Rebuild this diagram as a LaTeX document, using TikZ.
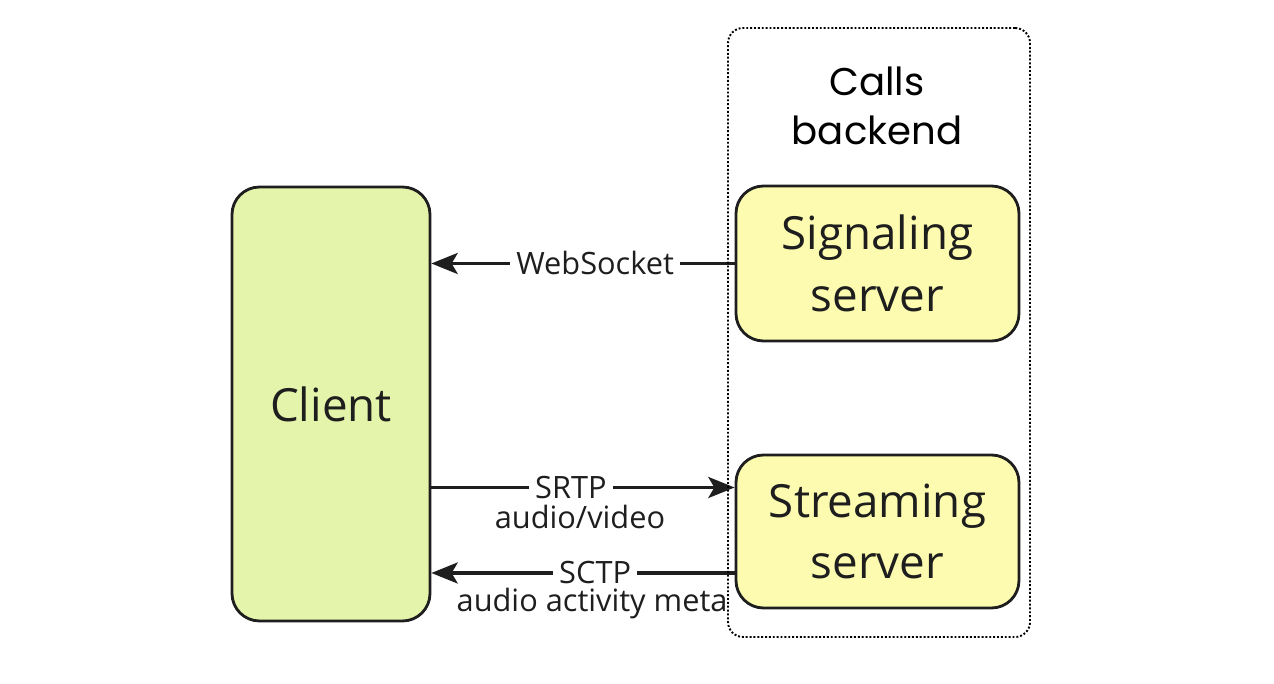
\documentclass[tikz,border=0pt]{standalone}
\usepackage{fontspec}
\usetikzlibrary{arrows.meta}
\newfontfamily\labelfont{Open Sans}
\newfontfamily\titlefont{Poppins}
\definecolor{clientfill}{HTML}{E4F4AA}
\definecolor{serverfill}{HTML}{FCFBB0}
\definecolor{ink}{HTML}{1E1E1E}

\begin{document}
\begin{tikzpicture}[box/.style={draw=ink, line width=1.6pt, rounded corners=0.55cm, align=center, text=ink, inner sep=0pt, font=\labelfont\fontsize{26}{35}\selectfont},
	group/.style={draw=black, line width=1.1pt, dash pattern=on 1.1pt off 1.1pt, rounded corners=0.3cm, inner sep=0pt},
	link/.style={draw=ink, line width=1.8pt, -{Stealth[length=15pt,width=12pt,inset=3.5pt]}},
	lbl/.style={fill=white, text=ink, inner xsep=3.5pt, inner ysep=1pt, anchor=base, yshift=-6pt, font=\labelfont\fontsize{17.5}{18}\selectfont},
	note/.style={text=ink, inner sep=0pt, anchor=base, font=\labelfont\fontsize{17.5}{18}\selectfont}]
	\useasboundingbox (0,0) rectangle (25.48,13.68);
	\node [box, fill=clientfill, minimum width=3.96cm, minimum height=8.68cm] (client) at (6.62,5.6){Client};
	\node [box, fill=serverfill, minimum width=5.66cm, minimum height=3.1cm] (sig) at (17.55,8.41){Signaling\\server};
	\node [box, fill=serverfill, minimum width=5.66cm, minimum height=3.06cm] (stream) at (17.55,3.05){Streaming\\server};
	\coordinate (srtp) at ([yshift=0.88cm]stream.west);
	\coordinate (sctp) at ([yshift=-0.83cm]stream.west);
% connections
\draw [link] (sig.west) -- (sig.west -| client.east) node [lbl, pos=0.46] (ws) {WebSocket};
\draw [link] (srtp -| client.east) -- (srtp) node [lbl, pos=0.46] (srtplbl) {SRTP} node [note, pos=0.49, yshift=-23.3pt] (srtpnote) {audio/video};
\draw [link] (sctp) -- (sctp -| client.east) node [lbl, pos=0.46] (sctplbl) {SCTP} node [note, pos=0.47, yshift=-22pt] (sctpnote) {audio activity meta};
% backend group
	\node [group, minimum width=6.04cm, minimum height=12.18cm] (backend) at (17.58,7.03){};
	\node [font=\titlefont\fontsize{22}{28}\selectfont, align=center] (title) at (17.54,11.56){Calls\\backend};
\end{tikzpicture}
\end{document}
